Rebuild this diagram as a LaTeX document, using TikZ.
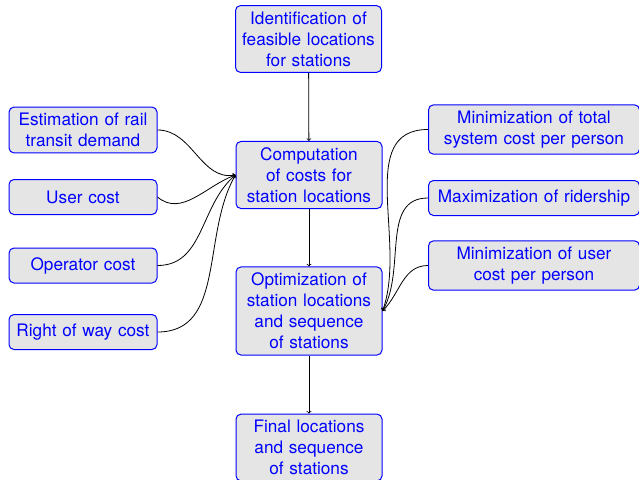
\documentclass[tikz,border=0pt]{standalone}
\usepackage{fontspec}
\setmainfont{TeX Gyre Heros}
\begin{document}
\begin{tikzpicture}[x=1pt,y=-1pt,
  box/.style={draw=blue, fill=gray!20, text=blue, rounded corners=5pt, align=center,
    font=\fontsize{17.2}{21}\selectfont, inner xsep=4pt, inner ysep=6pt, minimum height=35pt, line width=1pt},
  midbox/.style={box, text width=138pt},
  leftbox/.style={box, text width=140pt},
  rightbox/.style={box, text width=203pt},
  arr/.style={->, black, line width=0.8pt}]
\useasboundingbox (0,0) rectangle (639,479);
\node[midbox] (ident) at (308.5,39) {Identification of\\feasible locations\\for stations};
\node[midbox] (comp) at (309,175) {Computation\\of costs for\\station locations};
\node[midbox] (opt) at (309,311) {Optimization of\\station locations\\and sequence\\of stations};
\node[midbox] (final) at (309,447.5) {Final locations\\and sequence\\of stations};
\node[leftbox] (est) at (83,130) {Estimation of rail\\transit demand};
\node[leftbox] (user) at (83,197) {User cost};
\node[leftbox] (oper) at (83,265.5) {Operator cost};
\node[leftbox] (row) at (83,332) {Right of way cost};
\node[rightbox] (mintot) at (534,129.5) {Minimization of total\\system cost per person};
\node[rightbox] (maxr) at (534,198) {Maximization of ridership};
\node[rightbox] (minuser) at (534,265.5) {Minimization of user\\cost per person};
\draw[arr] (ident) -- (comp);
\draw[arr] (comp) -- (opt);
\draw[arr] (opt) -- (final);
\draw[arr] (est.east) to[out=0,in=190] (comp.west);
\draw[arr] (user.east) to[out=-40,in=200] (comp.west);
\draw[arr] (oper.east) to[out=0,in=220] (comp.west);
\draw[arr] (row.east) to[out=0,in=240] (comp.west);
\draw[arr] (mintot.west) to[out=180,in=70] (opt.east);
\draw[arr] (maxr.west) to[out=180,in=60] (opt.east);
\draw[arr] (minuser.west) to[out=180,in=45] (opt.east);
\end{tikzpicture}
\end{document}
